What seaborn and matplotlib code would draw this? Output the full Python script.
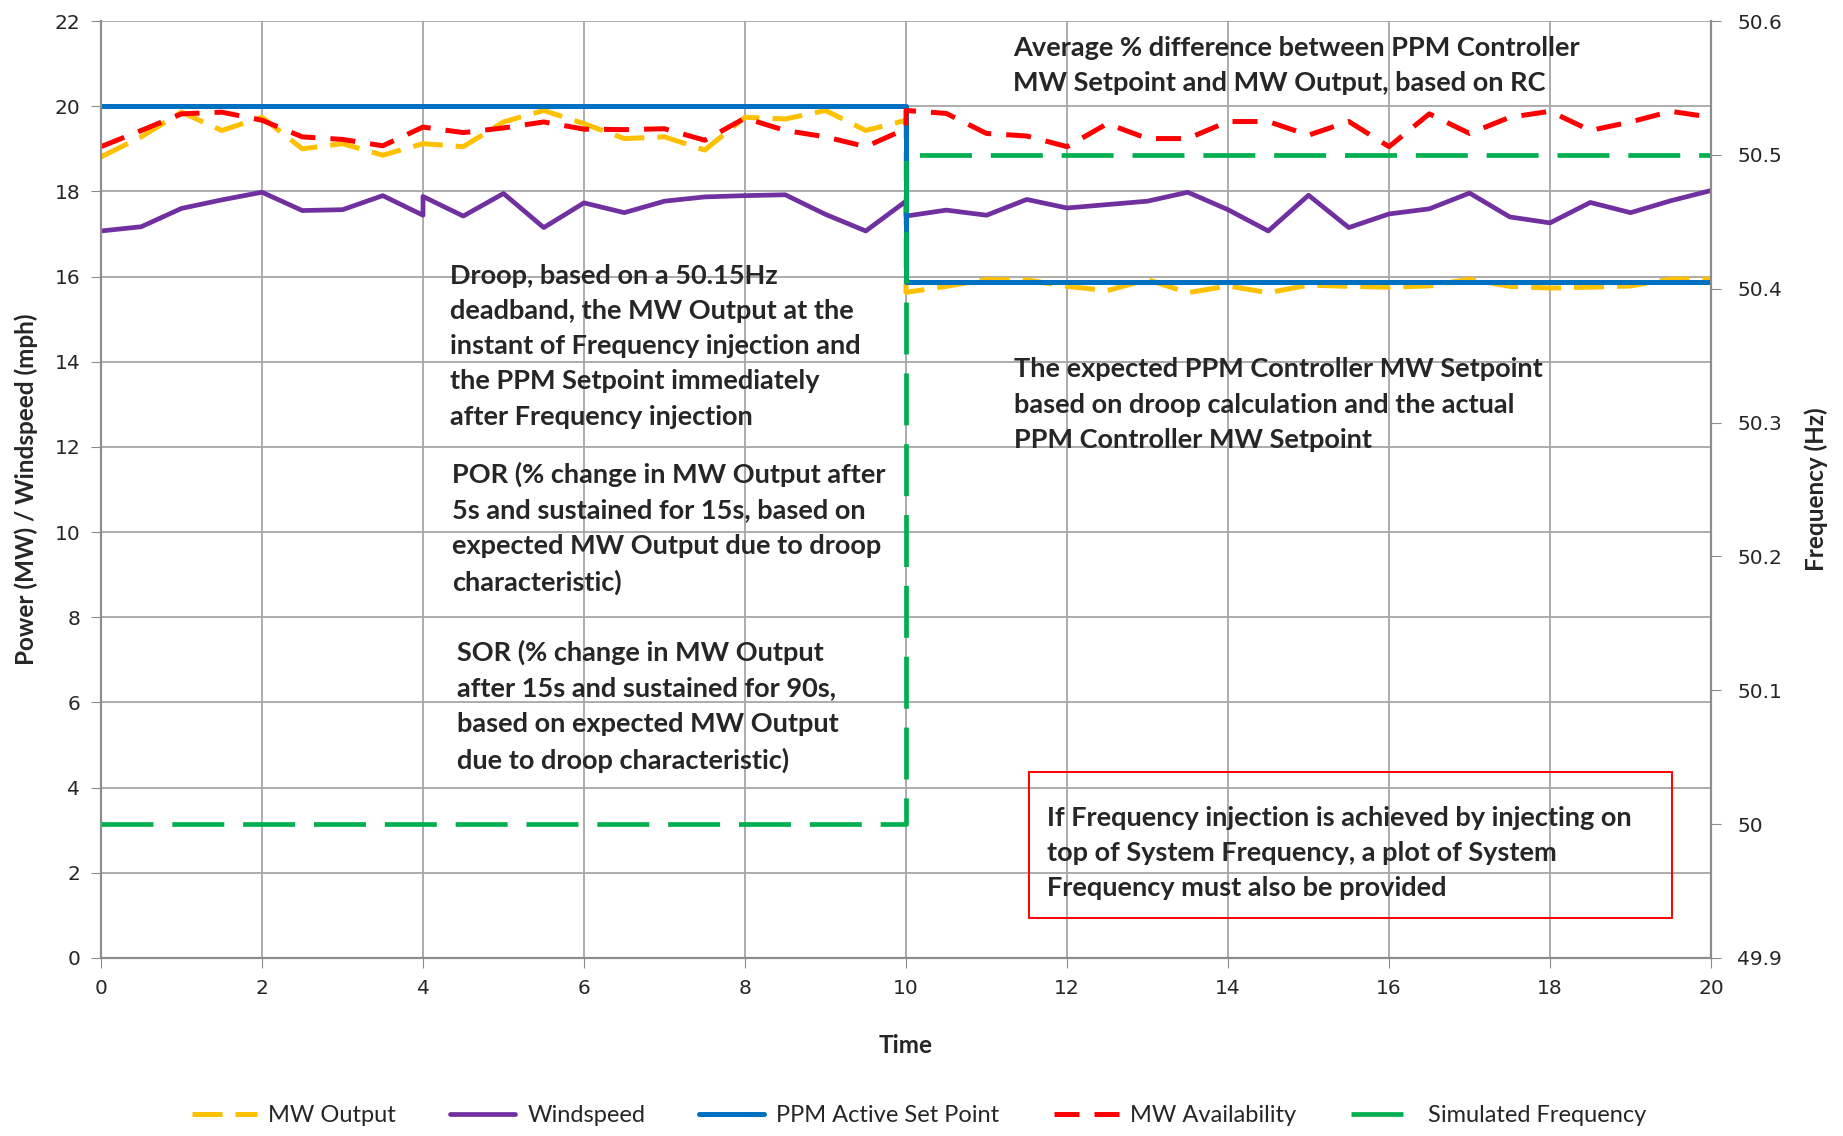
import matplotlib
matplotlib.use("Agg")
import matplotlib.pyplot as plt
import seaborn as sns
import pandas as pd
from matplotlib.patches import Rectangle

# values
t_half = [0, 0.5, 1, 1.5, 2, 2.5, 3, 3.5, 4, 4.5, 5, 5.5, 6, 6.5, 7, 7.5, 8, 8.5, 9, 9.5, 10,
          10, 10.5, 11, 11.5, 12, 12.5, 13, 13.5, 14, 14.5, 15, 15.5, 16, 16.5, 17, 17.5, 18, 18.5, 19, 19.5, 20]

mw_output = [18.81, 19.28, 19.86, 19.43, 19.74, 19.0, 19.12, 18.85, 19.12, 19.05, 19.63, 19.9, 19.59, 19.24,
             19.28, 18.97, 19.74, 19.7, 19.9, 19.43, 19.67,
             15.63, 15.77, 15.93, 15.92, 15.77, 15.67, 15.93, 15.62, 15.78, 15.62, 15.8, 15.77, 15.75, 15.78,
             15.94, 15.77, 15.73, 15.75, 15.78, 15.94, 15.94]

mw_availability = [19.05, 19.43, 19.82, 19.86, 19.67, 19.28, 19.22, 19.07, 19.51, 19.38, 19.49, 19.63, 19.46,
                   19.45, 19.47, 19.2, 19.72, 19.43, 19.28, 19.05, 19.47,
                   19.9, 19.83, 19.36, 19.3, 19.05, 19.59, 19.24, 19.24, 19.64, 19.64, 19.32, 19.64, 19.05,
                   19.82, 19.36, 19.74, 19.88, 19.43, 19.63, 19.88, 19.74]

t_wind = [0, 0.5, 1, 1.5, 2, 2.5, 3, 3.5, 4, 4, 4.5, 5, 5.5, 6, 6.5, 7, 7.5, 8, 8.5, 9, 9.5, 10,
          10, 10.5, 11, 11.5, 12, 12.5, 13, 13.5, 14, 14.5, 15, 15.5, 16, 16.5, 17, 17.5, 18, 18.5, 19, 19.5, 20]
windspeed = [17.07, 17.17, 17.6, 17.8, 17.98, 17.55, 17.57, 17.9, 17.44, 17.88, 17.42, 17.95, 17.15, 17.73,
             17.5, 17.77, 17.87, 17.9, 17.92, 17.46, 17.07, 17.77,
             17.42, 17.56, 17.44, 17.81, 17.61, 17.69, 17.77, 17.98, 17.57, 17.07, 17.91, 17.15, 17.47,
             17.59, 17.96, 17.4, 17.26, 17.74, 17.5, 17.78, 18.02]

t_step = [0, 10, 10, 20]
ppm_setpoint = [20.0, 20.0, 15.88, 15.88]
sim_frequency = [50.0, 50.0, 50.5, 50.5]

left_ticks = list(range(0, 23, 2))
right_ticks = [49.9, 50.0, 50.1, 50.2, 50.3, 50.4, 50.5, 50.6]
right_labels = ["49.9", "50", "50.1", "50.2", "50.3", "50.4", "50.5", "50.6"]
x_ticks = list(range(0, 21, 2))

df_half = pd.DataFrame({"time": t_half, "out": mw_output, "avail": mw_availability})
df_wind = pd.DataFrame({"time": t_wind, "wind": windspeed})
df_step = pd.DataFrame({"time": t_step, "sp": ppm_setpoint, "freq": sim_frequency})

sns.set_style("white")
plt.rcParams["font.family"] = ["DejaVu Sans"]

fig = plt.figure(figsize=(18.43, 11.36), dpi=100)
ax = fig.add_axes([0.0548, 0.1567, 0.8736, 0.8248])
ax2 = ax.twinx()

common = dict(estimator=None, sort=False, legend=False)
sns.lineplot(data=df_half, x="time", y="out", ax=ax, color="#FFC000", lw=3.6,
             linestyle=(0, (6, 2.6)), label="MW Output", **common)
sns.lineplot(data=df_wind, x="time", y="wind", ax=ax, color="#7030A0", lw=3.4,
             label="Windspeed", **common)
sns.lineplot(data=df_step, x="time", y="sp", ax=ax, color="#0070C0", lw=3.6,
             label="PPM Active Set Point", **common)
sns.lineplot(data=df_half, x="time", y="avail", ax=ax, color="#FF0000", lw=3.6,
             linestyle=(0, (5, 3)), label="MW Availability", **common)
sns.lineplot(data=df_step, x="time", y="freq", ax=ax2, color="#00B050", lw=3.4,
             linestyle=(0, (11, 4)), label="Simulated Frequency", **common)

ax.set_xlim(0, 20)
ax.set_ylim(0, 22)
ax2.set_ylim(49.9, 50.6)
ax.set_xticks(x_ticks)
ax.set_yticks(left_ticks)
ax2.set_yticks(right_ticks)
ax2.set_yticklabels(right_labels)

ax.grid(True, color="#A6A6A6", lw=1.3)
ax.set_axisbelow(True)
for a in (ax, ax2):
    a.spines["top"].set_visible(False)
    for s in ("left", "right", "bottom"):
        a.spines[s].set_color("#8C8C8C")
        a.spines[s].set_linewidth(1.5)
ax.tick_params(axis="both", labelsize=14.5, length=7, color="#8C8C8C", direction="out",
               left=True, bottom=True, pad=8)
ax2.tick_params(axis="y", labelsize=14.5, length=7, color="#8C8C8C", direction="out",
                right=True, pad=12)

lbl_font = dict(family=["Lato", "DejaVu Sans"], fontweight="bold", fontsize=17.5)
ax.set_xlabel("Time", labelpad=26, **lbl_font)
ax.set_ylabel("Power (MW) / Windspeed (mph)", labelpad=12, **lbl_font)
ax2.set_ylabel("Frequency (Hz)", labelpad=16, **lbl_font)

note = dict(family=["Lato", "DejaVu Sans"], fontweight="bold", fontsize=19.5, va="top",
            ha="left", linespacing=1.56)
ax.text(11.33, 21.65, "Average % difference between PPM Controller\nMW Setpoint and MW Output, based on RC", **note)
ax.text(4.34, 16.3, "Droop, based on a 50.15Hz\ndeadband, the MW Output at the\ninstant of Frequency injection and\n"
        "the PPM Setpoint immediately\nafter Frequency injection", **note)
ax.text(11.34, 14.1, "The expected PPM Controller MW Setpoint\nbased on droop calculation and the actual\n"
        "PPM Controller MW Setpoint", **note)
ax.text(4.36, 11.65, "POR (% change in MW Output after\n5s and sustained for 15s, based on\n"
        "expected MW Output due to droop\ncharacteristic)", **note)
ax.text(4.42, 7.47, "SOR (% change in MW Output\nafter 15s and sustained for 90s,\n"
        "based on expected MW Output\ndue to droop characteristic)", **note)
ax.add_patch(Rectangle((11.53, 0.94), 7.99, 3.42, fill=False, edgecolor="#FF0000", lw=1.4, zorder=5))
ax.text(11.75, 3.58, "If Frequency injection is achieved by injecting on\ntop of System Frequency, a plot of System\n"
        "Frequency must also be provided", **note)

h1, l1 = ax.get_legend_handles_labels()
h2, l2 = ax2.get_legend_handles_labels()
fig.legend(h1 + h2, l1 + l2, loc="lower center", bbox_to_anchor=(0.4985, -0.01), ncol=5, frameon=False,
           handlelength=2.75, columnspacing=2.3, handletextpad=0.5,
           prop={"family": ["Lato", "DejaVu Sans"], "size": 17})

fig.savefig("out.png", dpi=100)
